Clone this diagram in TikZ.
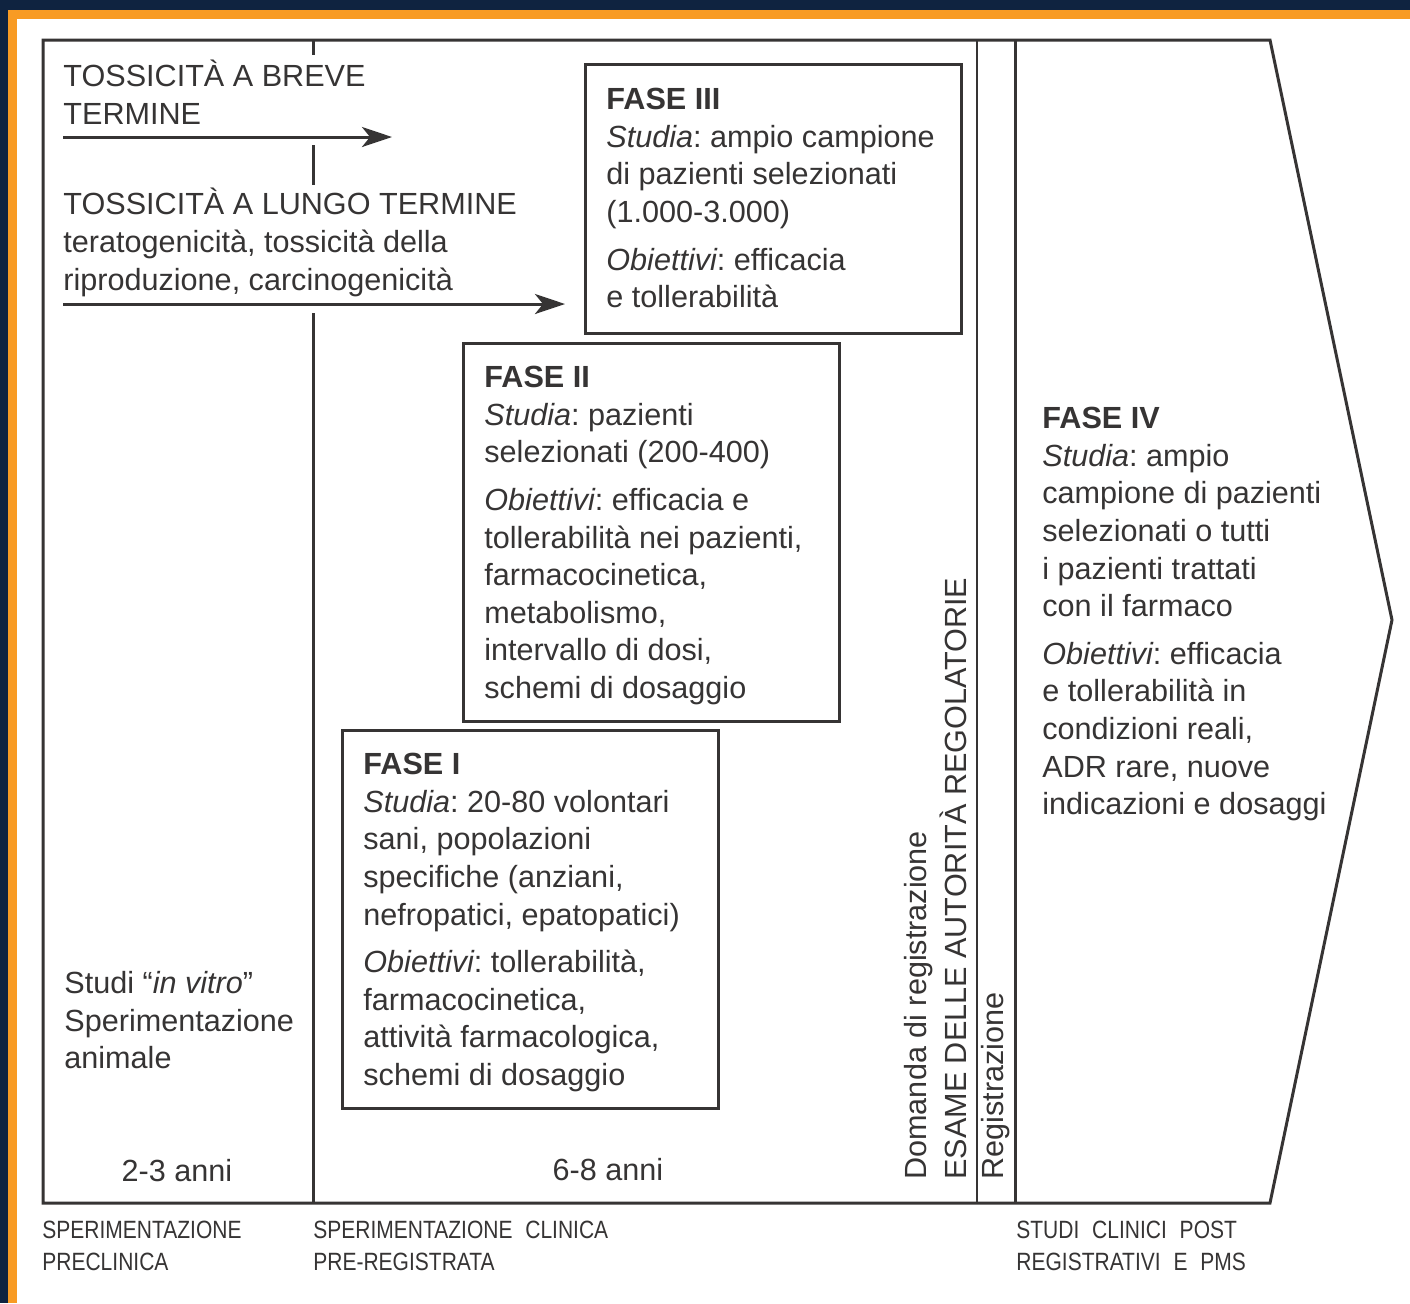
\documentclass[tikz,border=0pt]{standalone}
\usepackage{fontspec}
\setmainfont{Liberation Sans}
\newfontfamily\piede[FakeStretch=0.84,WordSpace=2.2]{Liberation Sans}
\usetikzlibrary{arrows.meta,positioning}
\definecolor{navy}{HTML}{0F2340}
\definecolor{arancio}{HTML}{F89B24}
\definecolor{inchiostro}{HTML}{363434}
\frenchspacing

\begin{document}
\begin{tikzpicture}[
  x=0.5pt, y=-0.5pt,
  color=inchiostro,
  font=\fontsize{15.3}{18.8}\selectfont,
  linea/.style={draw=inchiostro, line width=1.5pt},
  fasebox/.style={draw=inchiostro, line width=1.5pt, anchor=north west, inner sep=0pt,
                  minimum width=188pt},
  testo/.style={anchor=north west, inner sep=0pt, align=left},
  arr/.style={-{Stealth[length=15pt,width=10pt,inset=4pt]}, line width=1.5pt},
  piedelab/.style={anchor=north west, inner sep=0pt, align=left,
                   font=\piede\fontsize{12.5}{16}\selectfont},
  verticale/.style={rotate=90, anchor=base west, inner sep=0pt}
]
% sfondo e cornice della pagina
\fill[navy] (0,0) rectangle (1410,1303);
\fill[arancio] (8,10) rectangle (1410,1303);
\fill[white] (17,19) rectangle (1410,1303);
\useasboundingbox (0,0) rectangle (1410,1303);

% freccia grande
\draw[linea, line join=miter] (43,40) -- (1270,40) -- (1392,620) -- (1270,1203) -- (43,1203) -- cycle;
\draw[linea] (313,40) -- (313,55);
\draw[linea] (313,145) -- (313,185);
\draw[linea] (313,313) -- (313,1203);
\draw[line width=1pt] (977,40) -- (977,1203);
\draw[linea] (1015,40) -- (1015,1203);

% tossicita
\node[testo] (breve) at (63,60) {TOSSICITÀ A BREVE\\TERMINE};
\coordinate (breveA) at (63,137);
\coordinate (breveB) at (392,137);
\draw[arr] (breveA) -- (breveB);
\node[testo] (lungo) at (63,188) {TOSSICITÀ A LUNGO TERMINE\\teratogenicità, tossicità della\\riproduzione, carcinogenicità};
\coordinate (lungoA) at (63,304);
\coordinate (lungoB) at (565,304);
\draw[arr] (lungoA) -- (lungoB);

% fasi
\node[fasebox, minimum height=134.5pt] (box3) at (584,63) {};
\node[testo, below right=12.5pt and 11pt of box3.north west] (fase3)
  {\textbf{FASE III}\\{\itshape Studia}: ampio campione\\di pazienti selezionati\\(1.000-3.000)\\[5pt]
   {\itshape Obiettivi}: efficacia\\e tollerabilità};
\node[fasebox, minimum height=189pt] (box2) at (462,342) {};
\node[testo, below right=12pt and 11pt of box2.north west] (fase2)
  {\textbf{FASE II}\\{\itshape Studia}: pazienti\\selezionati (200-400)\\[5pt]
   {\itshape Obiettivi}: efficacia e\\tollerabilità nei pazienti,\\farmacocinetica,\\metabolismo,\\intervallo di dosi,\\schemi di dosaggio};
\node[fasebox, minimum height=189pt] (box1) at (341,729) {};
\node[testo, below right=12pt and 11pt of box1.north west] (fase1)
  {\textbf{FASE I}\\{\itshape Studia}: 20-80 volontari\\sani, popolazioni\\specifiche (anziani,\\nefropatici, epatopatici)\\[5pt]
   {\itshape Obiettivi}: tollerabilità,\\farmacocinetica,\\attività farmacologica,\\schemi di dosaggio};
\node[testo] (fase4) at (1042,407)
  {\textbf{FASE IV}\\{\itshape Studia}: ampio\\campione di pazienti\\selezionati o tutti\\i pazienti trattati\\con il farmaco\\[5pt]
   {\itshape Obiettivi}: efficacia\\e tollerabilità in\\condizioni reali,\\ADR rare, nuove\\indicazioni e dosaggi};

% preclinica
\node[testo] (invitro) at (64,971) {Studi “{\itshape in vitro}”\\Sperimentazione\\animale};
\node[inner sep=0pt, anchor=base] (anni23) at (177,1181) {2-3 anni};
\node[inner sep=0pt, anchor=base] (anni68) at (608,1180) {6-8 anni};

% registrazione
\node[verticale] (domanda) at (926,1180) {Domanda di registrazione};
\node[verticale] (esame) at (966,1180) {ESAME DELLE AUTORITÀ REGOLATORIE};
\node[verticale] (registr) at (1003,1180) {Registrazione};

% didascalie sotto
\node[piedelab] (preclinica) at (42,1221) {SPERIMENTAZIONE\\PRECLINICA};
\node[piedelab] (clinica) at (313,1221) {SPERIMENTAZIONE CLINICA\\PRE-REGISTRATA};
\node[piedelab] (post) at (1016,1221) {STUDI CLINICI POST\\REGISTRATIVI E PMS};
\end{tikzpicture}
\end{document}
